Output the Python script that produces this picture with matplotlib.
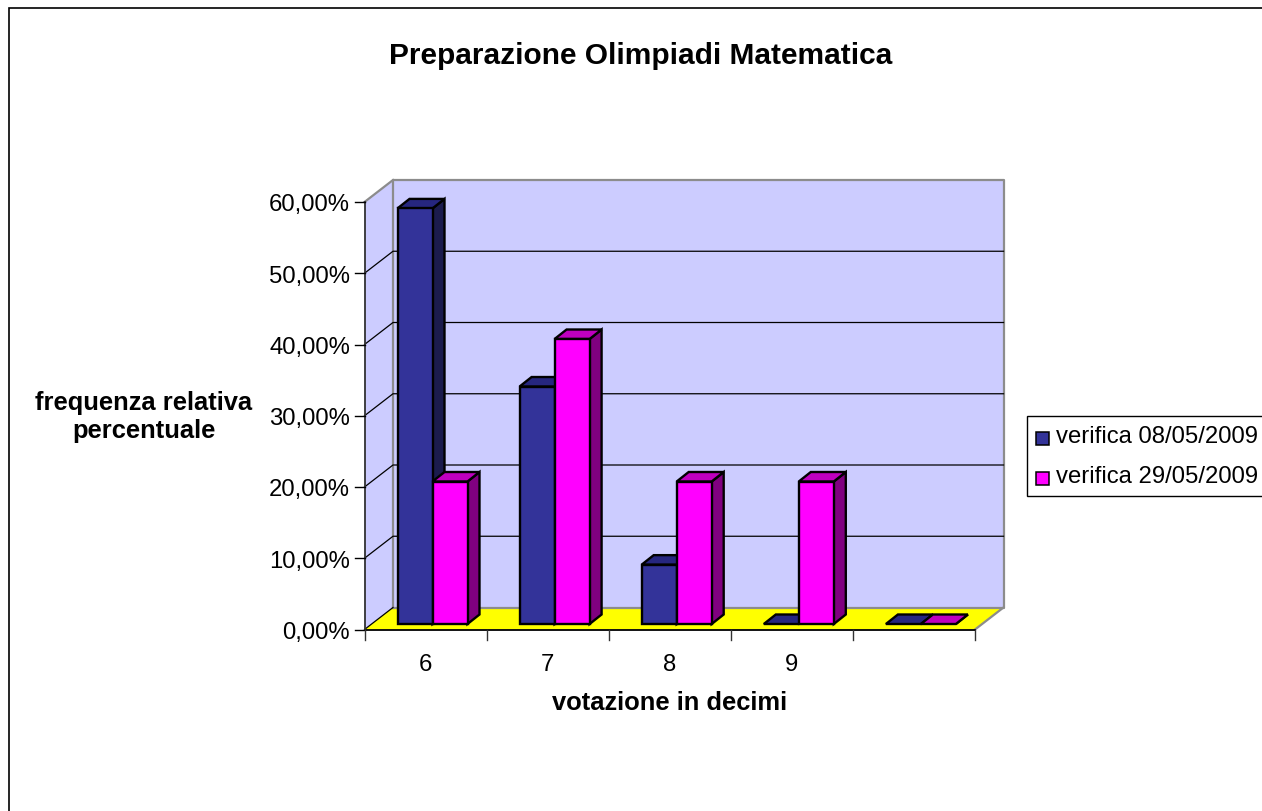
import matplotlib
matplotlib.use("Agg")
import matplotlib.pyplot as plt
from matplotlib.patches import Polygon, Rectangle

plt.rcParams['font.family'] = ['Liberation Sans', 'DejaVu Sans']

W, H = 1262, 812
title = "Preparazione Olimpiadi Matematica"
xlabel = "votazione in decimi"
ylabel = "frequenza relativa\npercentuale"
categories = ["6", "7", "8", "9", ""]
series_names = ["verifica 08/05/2009", "verifica 29/05/2009"]
values_a = [58.33, 33.33, 8.33, 0, 0]
values_b = [20, 40, 20, 20, 0]
yticks = [0, 10, 20, 30, 40, 50, 60]
ytick_labels = ["0,00%", "10,00%", "20,00%", "30,00%", "40,00%", "50,00%", "60,00%"]

NAVY, NAVY_TOP, NAVY_SIDE = "#333399", "#26267F", "#1B1B4D"
MAG, MAG_TOP, MAG_SIDE = "#FF00FF", "#BF00BF", "#800080"
WALL, FLOOR, WALLEDGE = "#CCCCFF", "#FFFF00", "#8C8C8C"

fig = plt.figure(figsize=(W / 100, H / 100), dpi=100, facecolor="white")

# outer chart frame
fig.add_artist(Rectangle((8.5 / W, -0.01), 1.1, 1 - 9 / H + 0.01, transform=fig.transFigure,
                         fill=False, ec="black", lw=1.2))

L, R, T, B = 364.5, 975, 203, 630.5
ax = fig.add_axes([L / W, 1 - B / H, (R - L) / W, (B - T) / H])
ax.set_xlim(0, 5)
ax.set_ylim(0, 60)
ax.patch.set_visible(False)
for s in ax.spines.values():
    s.set_visible(False)

px = 5 / (R - L)          # data units per pixel, x
py = 60 / (B - T)         # data units per pixel, y
DX, DY = 28.5 * px, 22 * py   # depth of the whole plot box


def poly(pts, fc, ec="none", lw=0.0, z=1):
    ax.add_patch(Polygon(pts, closed=True, fc=fc, ec=ec, lw=lw, zorder=z, clip_on=False,
                         joinstyle="miter"))


# walls and floor
poly([(DX, DY), (5 + DX, DY), (5 + DX, 60 + DY), (DX, 60 + DY)], WALL, z=1)
poly([(0, 0), (DX, DY), (DX, 60 + DY), (0, 60)], WALL, z=1)
poly([(0, 0), (5, 0), (5 + DX, DY), (DX, DY)], FLOOR, z=1)
edge = dict(color=WALLEDGE, lw=1.6, zorder=2, clip_on=False, solid_capstyle="projecting")
ax.plot([DX, 5 + DX, 5 + DX, DX, DX], [DY, DY, 60 + DY, 60 + DY, DY], **edge)
ax.plot([0, DX], [60, 60 + DY], **edge)
ax.plot([5, 5 + DX], [0, DY], **edge)

# gridlines along wall
for v in yticks[1:-1]:
    ax.plot([0, DX, 5 + DX], [v, v + DY, v + DY], color="black", lw=0.9, zorder=3, clip_on=False)
ax.plot([0, DX], [0, DY], color="black", lw=0.9, zorder=3, clip_on=False)

# axes lines
ax.plot([0, 5], [0, 0], color="black", lw=1.3, zorder=3, clip_on=False)
ax.plot([0, 0], [0, 60], color="#333333", lw=1.3, zorder=3, clip_on=False)
ax.set_xticks(range(6))
ax.set_xticklabels([])
ax.set_yticks(yticks)
ax.set_yticklabels(ytick_labels, fontsize=17.2)
ax.tick_params(axis="y", length=0, pad=10.5)
ax.tick_params(axis="x", length=0)
for v in yticks:
    ax.plot([-10 * px, 0], [v, v], color="black", lw=1.0, zorder=3, clip_on=False)
for i in range(6):
    ax.plot([i, i], [0, -10 * py], color="#333333", lw=1.0, zorder=3, clip_on=False)
for i, c in enumerate(categories):
    ax.text(i + 0.5, -34.5 * py, c, ha="center", va="center", fontsize=17.2)

# bars
BW = 35 * px
M = 26 * px
OX, OY = 7 * px, 5.5 * py      # front face offset from front plane
BDX, BDY = 12 * px, 9.5 * py   # bar depth


def bar(x, v, fc, top, side, z):
    y0 = OY
    y1 = OY + v
    ec = dict(ec="black", lw=1.7, z=z)
    poly([(x + BW, y0), (x + BW + BDX, y0 + BDY), (x + BW + BDX, y1 + BDY), (x + BW, y1)], side, **ec)
    poly([(x, y1), (x + BDX, y1 + BDY), (x + BW + BDX, y1 + BDY), (x + BW, y1)], top, **ec)
    if v > 0:
        poly([(x, y0), (x + BW, y0), (x + BW, y1), (x, y1)], fc, **ec)


for i in range(len(categories)):
    x0 = i + OX + M
    bar(x0, values_a[i], NAVY, NAVY_TOP, NAVY_SIDE, 5 + i * 2)
    bar(x0 + BW, values_b[i], MAG, MAG_TOP, MAG_SIDE, 6 + i * 2)


def ftext(x, y, s, **kw):
    fig.text(x / W, 1 - y / H, s, ha="center", va="center", **kw)


ftext(641, 56, title, fontsize=21.5, fontweight="bold")
ftext(670, 703, xlabel, fontsize=18.4, fontweight="bold")
ftext(144, 417, ylabel, fontsize=18.4, fontweight="bold", linespacing=1.2)

# legend
fig.add_artist(Rectangle((1026.5 / W, 1 - 497 / H), 300 / W, 80 / H, transform=fig.transFigure,
                         fc="white", ec="black", lw=1.0))
for y, c, name in zip([437, 477], [NAVY, MAG], series_names):
    fig.add_artist(Rectangle((1035.5 / W, 1 - (y + 9) / H), 13 / W, 13 / H, transform=fig.transFigure,
                             fc=c, ec="black", lw=1.1))
    fig.text(1056 / W, 1 - y / H, name, ha="left", va="center", fontsize=17.2)

fig.savefig("out.png", dpi=100)
